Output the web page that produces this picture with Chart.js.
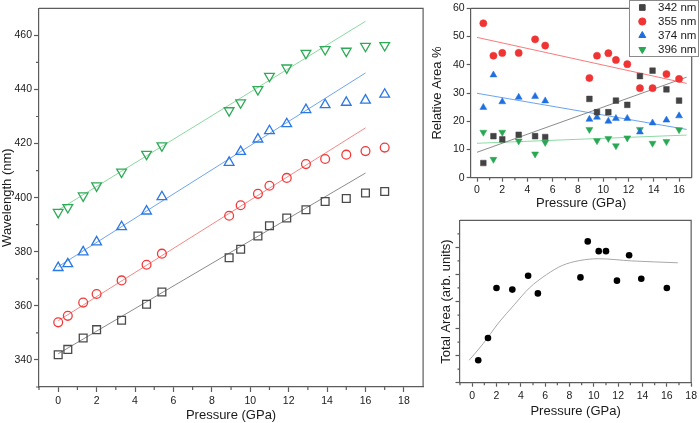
<!DOCTYPE html>
<html>
<head>
<meta charset="utf-8">
<script src="https://cdn.jsdelivr.net/npm/chart.js@4.4.0/dist/chart.umd.min.js"></script>
<style>
  html, body { margin: 0; padding: 0; background: #fff; }
  body { width: 700px; height: 423px; position: relative; overflow: hidden; }
  .box { position: absolute; }
  #wlBox  { left: 0;     top: 0;     width: 430px; height: 423px; }
  #relBox { left: 430px; top: 0;     width: 270px; height: 212px; }
  #totBox { left: 430px; top: 212px; width: 270px; height: 211px; }
</style>
</head>
<body>
<div class="box" id="wlBox"><canvas id="wlChart"></canvas></div>
<div class="box" id="relBox"><canvas id="relChart"></canvas></div>
<div class="box" id="totBox"><canvas id="totChart"></canvas></div>
<script>
// ---------------------------------------------------------------
// Data
// ---------------------------------------------------------------
const pressure = [0, 0.5, 1.3, 2.0, 3.3, 4.6, 5.4, 8.9, 9.5, 10.4, 11.0, 11.9, 12.9, 13.9, 15.0, 16.0, 17.0];
const wl342 = [341.9, 343.9, 348.1, 351.2, 354.7, 360.6, 365.1, 377.8, 380.9, 385.8, 389.6, 392.5, 395.5, 398.6, 399.7, 401.7, 402.3];
const wl355 = [353.9, 356.3, 361.2, 364.4, 369.4, 375.2, 379.3, 393.3, 397.2, 401.4, 404.4, 407.3, 412.4, 414.3, 415.9, 417.2, 418.5];
const wl374 = [374.1, 375.5, 379.9, 383.6, 389.2, 395.0, 400.3, 413.0, 417.0, 421.6, 424.7, 427.3, 432.5, 434.3, 435.2, 436.0, 438.2];
const wl396 = [394.6, 396.4, 400.7, 404.4, 409.5, 416.1, 419.2, 432.2, 435.1, 440.0, 444.9, 448.0, 453.4, 454.8, 454.2, 456.0, 456.3];

// linear fits (end points)
const wlFitP = [0, 16];
const wlFit342 = [342.3, 409.1];
const wlFit355 = [354.5, 425.8];
const wlFit374 = [374.5, 446.1];
const wlFit396 = [395.4, 465.2];

const relP = [0.5, 1.3, 2.0, 3.3, 4.6, 5.4, 8.9, 9.5, 10.4, 11.0, 11.9, 12.9, 13.9, 15.0, 16.0];
const rel342 = [5.2, 14.7, 13.6, 15.2, 14.7, 14.4, 27.9, 23.2, 23.2, 27.3, 25.8, 36.0, 37.9, 31.3, 27.3];
const rel355 = [54.7, 43.2, 44.2, 44.2, 49.0, 46.8, 35.3, 43.2, 44.1, 41.7, 40.2, 31.7, 31.7, 36.7, 35.0];
const rel374 = [24.9, 36.4, 26.9, 28.5, 28.8, 27.2, 20.7, 21.4, 20.0, 21.0, 21.0, 16.2, 19.4, 20.4, 21.9];
const rel396 = [16.1, 6.5, 16.1, 13.0, 8.4, 12.5, 17.1, 13.1, 13.9, 11.3, 14.1, 17.1, 12.2, 12.8, 17.0];

const relFitP = [0, 16.6];
const relFit342 = [9.0, 35.6];
const relFit355 = [49.7, 33.4];
const relFit374 = [29.9, 17.1];
const relFit396 = [12.2, 15.1];

const totP = [0.5, 1.3, 2.0, 3.3, 4.6, 5.4, 8.9, 9.5, 10.4, 11.0, 11.9, 12.9, 13.9, 16.0];
const totArea = [0.83, 1.65, 3.5, 3.44, 3.95, 3.3, 3.89, 5.22, 4.86, 4.86, 3.77, 4.71, 3.84, 3.5];
const totFitP = [-0.25, 0.9, 2.1, 3.5, 4.7, 6.1, 7.4, 8.8, 10.4, 13.1, 16.9];
const totFit = [0.83, 1.44, 2.17, 2.9, 3.5, 3.99, 4.33, 4.51, 4.58, 4.5, 4.43];

// tick values
const wlTicks = [340, 360, 380, 400, 420, 440, 460];
const wlMinor = [330, 350, 370, 390, 410, 430, 450];
const pTicks = [0, 2, 4, 6, 8, 10, 12, 14, 16, 18];
const pMinor = [-1, 1, 3, 5, 7, 9, 11, 13, 15, 17];
const relTicks = [0, 10, 20, 30, 40, 50, 60];
const relPTicks = [0, 2, 4, 6, 8, 10, 12, 14, 16];
const relPMinor = [1, 3, 5, 7, 9, 11, 13, 15];
const totTicks = [0, 1, 2, 3, 4, 5];
const totMinor = [0.5, 1.5, 2.5, 3.5, 4.5, 5.5];

const labels = ['342 nm', '355 nm', '374 nm', '396 nm'];

// ---------------------------------------------------------------
// Styling
// ---------------------------------------------------------------
const family = "'Liberation Sans', Arial, sans-serif";
const axisColor = '#5c5c5c';
const textColor = '#1a1a1a';
const colors = {
    gray:  '#4a4a4a',
    red:   '#f03a3a',
    blue:  '#2a78e4',
    green: '#2fab58'
};
const fitColors = {
    gray:  'rgba(90, 90, 90, 0.7)',
    red:   'rgba(240, 70, 70, 0.65)',
    blue:  'rgba(50, 125, 230, 0.7)',
    green: 'rgba(90, 200, 120, 0.7)'
};

const pts = (xs, ys) => xs.map((x, i) => ({ x: x, y: ys[i] }));

function scale(min, max, major, o) {
    return {
        type: 'linear',
        min: min,
        max: max,
        afterBuildTicks: s => { s.ticks = major.map(v => ({ value: v })); },
        afterFit: s => {
            if (o.w != null) s.width = o.w;
            if (o.h != null) s.height = o.h;
        },
        border: { display: true, color: axisColor, width: 1.2 },
        grid: {
            drawOnChartArea: false,
            drawTicks: true,
            tickLength: o.tick || 5,
            tickColor: axisColor,
            tickWidth: 1.2
        },
        ticks: {
            padding: o.pad || 2,
            color: textColor,
            autoSkip: false,
            maxRotation: 0,
            font: { family: family, size: 10.5 },
            callback: o.noLabels ? () => '' : v => v
        },
        title: {
            display: true,
            text: o.title,
            color: textColor,
            font: { family: family, size: 13 },
            padding: o.tp || { top: 0, bottom: 0 }
        }
    };
}

// frame (top/right) and minor ticks
const frame = {
    id: 'frame',
    afterDraw(chart, args, opts) {
        const { ctx, chartArea: a, scales } = chart;
        ctx.save();
        ctx.strokeStyle = axisColor;
        ctx.lineWidth = 1.2;
        ctx.beginPath();
        ctx.moveTo(a.left, a.top);
        ctx.lineTo(a.right, a.top);
        ctx.lineTo(a.right, a.bottom);
        (opts.x || []).forEach(v => {
            const p = scales.x.getPixelForValue(v);
            if (p < a.left - 0.5 || p > a.right + 0.5) return;
            ctx.moveTo(p, a.bottom);
            ctx.lineTo(p, a.bottom + opts.len);
        });
        (opts.y || []).forEach(v => {
            const p = scales.y.getPixelForValue(v);
            if (p < a.top - 0.5 || p > a.bottom + 0.5) return;
            ctx.moveTo(a.left, p);
            ctx.lineTo(a.left - opts.len, p);
        });
        ctx.stroke();
        ctx.restore();
    }
};

// boxed legend drawn over the plot
const boxLegend = {
    id: 'boxLegend',
    afterDraw(chart, args, o) {
        const ctx = chart.ctx;
        const items = chart.data.datasets.filter(d => d.label);
        ctx.save();
        ctx.fillStyle = '#fff';
        ctx.strokeStyle = '#8a8a8a';
        ctx.lineWidth = 1;
        ctx.fillRect(o.x, o.y, o.w, o.h);
        ctx.strokeRect(o.x + 0.5, o.y + 0.5, o.w, o.h);
        items.forEach((d, i) => {
            const cy = o.y + o.first + i * o.step;
            ctx.fillStyle = d.backgroundColor;
            ctx.strokeStyle = d.borderColor;
            Chart.helpers.drawPoint(ctx, {
                pointStyle: d.pointStyle,
                rotation: d.rotation || 0,
                radius: d.pointRadius,
                borderWidth: 1
            }, o.mx, cy);
            ctx.fillStyle = textColor;
            ctx.font = '11.5px ' + family;
            ctx.textBaseline = 'middle';
            ctx.fillText(d.label, o.tx, cy);
        });
        ctx.restore();
    }
};

function openSeries(xs, ys, c, style, r, rot) {
    return {
        data: pts(xs, ys),
        pointStyle: style,
        rotation: rot || 0,
        pointRadius: r,
        pointBorderWidth: 1.3,
        pointBorderColor: c,
        pointBackgroundColor: 'transparent',
        borderColor: c,
        backgroundColor: 'transparent',
        showLine: false
    };
}

function fitLine(xs, ys, c, width) {
    return {
        data: pts(xs, ys),
        showLine: true,
        borderColor: c,
        borderWidth: width || 1,
        pointRadius: 0,
        fill: false
    };
}

function filledSeries(label, xs, ys, c, style, r, rot) {
    return {
        label: label,
        data: pts(xs, ys),
        pointStyle: style,
        rotation: rot || 0,
        pointRadius: r,
        pointBorderWidth: 0.5,
        borderColor: c,
        backgroundColor: c,
        showLine: false
    };
}

const baseOptions = {
    responsive: true,
    maintainAspectRatio: false,
    animation: false,
    events: []
};

// ---------------------------------------------------------------
// 1. Wavelength vs pressure
// ---------------------------------------------------------------
new Chart(document.getElementById('wlChart'), {
    type: 'scatter',
    data: {
        datasets: [
            openSeries(pressure, wl396, colors.green, 'triangle', 5.6, 180),
            openSeries(pressure, wl374, colors.blue, 'triangle', 5.6),
            openSeries(pressure, wl355, colors.red, 'circle', 4.4),
            openSeries(pressure, wl342, colors.gray, 'rect', 5.5),
            fitLine(wlFitP, wlFit396, fitColors.green),
            fitLine(wlFitP, wlFit374, fitColors.blue),
            fitLine(wlFitP, wlFit355, fitColors.red),
            fitLine(wlFitP, wlFit342, fitColors.gray)
        ]
    },
    options: {
        ...baseOptions,
        layout: { padding: { left: 0, top: 8, right: 3, bottom: 0 } },
        plugins: {
            legend: { display: false },
            tooltip: { enabled: false },
            frame: { x: pMinor, y: wlMinor, len: 3 }
        },
        scales: {
            x: scale(-1, 19, pTicks, { h: 36, pad: 3, title: 'Pressure (GPa)', tp: { top: 0, bottom: 0 } }),
            y: scale(330, 470, wlTicks, { w: 39, pad: 2, title: 'Wavelength (nm)', tp: { top: 0, bottom: 0 } })
        }
    },
    plugins: [frame]
});

// ---------------------------------------------------------------
// 2. Relative area
// ---------------------------------------------------------------
new Chart(document.getElementById('relChart'), {
    type: 'scatter',
    data: {
        datasets: [
            filledSeries(labels[0], relP, rel342, '#434343', 'rect', 4),
            filledSeries(labels[1], relP, rel355, '#f03434', 'circle', 3.6),
            filledSeries(labels[2], relP, rel374, '#1f6fe0', 'triangle', 4),
            filledSeries(labels[3], relP, rel396, '#28a852', 'triangle', 4, 180),
            fitLine(relFitP, relFit342, 'rgba(110,110,110,0.8)'),
            fitLine(relFitP, relFit355, 'rgba(245,90,90,0.8)'),
            fitLine(relFitP, relFit374, 'rgba(70,140,235,0.8)'),
            fitLine(relFitP, relFit396, 'rgba(110,210,140,0.8)')
        ]
    },
    options: {
        ...baseOptions,
        layout: { padding: { left: 0, top: 8.3, right: 8.3, bottom: 0 } },
        plugins: {
            legend: { display: false },
            tooltip: { enabled: false },
            frame: { x: relPMinor, len: 2.5 },
            boxLegend: { x: 199, y: 0, w: 69, h: 56, first: 7.5, step: 14, mx: 212.3, tx: 228 }
        },
        scales: {
            x: scale(-0.5, 17, relPTicks, { h: 34.3, tick: 4, pad: 0, title: 'Pressure (GPa)', tp: { top: 0, bottom: 1 } }),
            y: scale(0, 60, relTicks, { w: 40.7, tick: 4, pad: 2, title: 'Relative Area %', tp: { top: 0, bottom: 0 } })
        }
    },
    plugins: [frame, boxLegend]
});

// ---------------------------------------------------------------
// 3. Total area
// ---------------------------------------------------------------
new Chart(document.getElementById('totChart'), {
    type: 'scatter',
    data: {
        datasets: [
            {
                data: pts(totP, totArea),
                pointStyle: 'circle',
                pointRadius: 3.3,
                pointBorderWidth: 0,
                backgroundColor: '#000',
                borderColor: '#000',
                showLine: false
            },
            {
                data: pts(totFitP, totFit),
                showLine: true,
                borderColor: '#a8a8a8',
                borderWidth: 1,
                pointRadius: 0,
                cubicInterpolationMode: 'monotone',
                fill: false
            }
        ]
    },
    options: {
        ...baseOptions,
        layout: { padding: { left: 0, top: 6.3, right: 6.7, bottom: 0 } },
        plugins: {
            legend: { display: false },
            tooltip: { enabled: false },
            frame: { x: pMinor, y: totMinor, len: 2.5 }
        },
        scales: {
            x: scale(-1, 18, pTicks, { h: 40.3, tick: 4, pad: 3, title: 'Pressure (GPa)', tp: { top: 0, bottom: 3.5 } }),
            y: scale(0, 6, totTicks, { w: 30, tick: 4.5, noLabels: true, title: 'Total Area (arb. units)', tp: { top: 8.5, bottom: 0 } })
        }
    },
    plugins: [frame]
});
</script>
</body>
</html>
